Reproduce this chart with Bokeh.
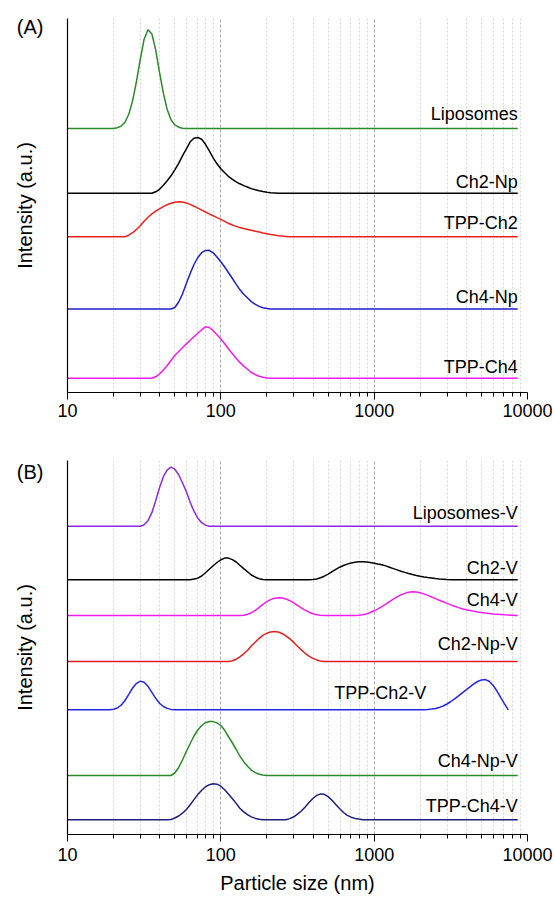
from bokeh.plotting import figure
from bokeh.models import Range1d, FixedTicker, Grid, NumeralTickFormatter
from bokeh.layouts import column
from bokeh.core.properties import value
from bokeh.embed import file_html
from bokeh.resources import INLINE

FONT = "Liberation Sans"

# particle size sampling grid (nm)
size_grid = [10.0, 10.6, 11.2, 11.9, 12.6, 13.3, 14.1, 15.0, 15.8, 16.8, 17.8, 18.8,
             20.0, 21.1, 22.4, 23.7, 25.1, 26.6, 28.2, 29.9, 31.6, 33.5, 35.5, 37.6,
             39.8, 42.2, 44.7, 47.3, 50.1, 53.1, 56.2, 59.6, 63.1, 66.8, 70.8, 75.0,
             79.4, 84.1, 89.1, 94.4, 100, 106, 112, 119, 126, 133, 141, 150, 158, 168,
             178, 188, 200, 211, 224, 237, 251, 266, 282, 299, 316, 335, 355, 376, 398,
             422, 447, 473, 501, 531, 562, 596, 631, 668, 708, 750, 794, 841, 891, 944,
             1000, 1059, 1122, 1189, 1259, 1334, 1413, 1496, 1585, 1679, 1778, 1884,
             1995, 2113, 2239, 2371, 2512, 2661, 2818, 2985, 3162, 3350, 3548, 3758,
             3981, 4217, 4467, 4732, 5012, 5309, 5623, 5957, 6310, 6683, 7079, 7499,
             7943, 8414, 8635]

major_ticks = [10, 100, 1000, 10000]
minor_ticks = [20, 30, 40, 50, 60, 70, 80, 90, 200, 300, 400, 500, 600, 700, 800, 900,
               2000, 3000, 4000, 5000, 6000, 7000, 8000, 9000]
major_grid = [100, 1000]

# ---------------- Panel A : intensity distributions (a.u.) ----------------
a_names = ["Liposomes", "Ch2-Np", "TPP-Ch2", "Ch4-Np", "TPP-Ch4"]
a_colors = ["#2a8a2a", "#000000", "#e8201c", "#1f1fc8", "#ee1cee"]
a_offsets = [264.0, 199.2, 155.8, 83.5, 14.2]
a_label_y = [278.7, 210.8, 169.2, 95.2, 25.2]
a_label_x = [8635, 8635, 8635, 8635, 8635]

liposomes_from = 20.0
liposomes = [0, 0.8, 2.4, 6.3, 14.3, 27.9, 47.5, 70, 89.3, 98.7, 94.6, 78.5, 56.4,
             35.1, 18.9, 8.8, 3.6, 1.3, 0.3, 0]
ch2_np_from = 35.5
ch2_np = [0, 1.5, 4, 8, 12.5, 17.5, 23.5, 30, 37.5, 44.5, 51.5, 55, 55.8, 54, 49,
          42.5, 35.5, 29.5, 24.5, 20.5, 17, 14, 11.5, 9.5, 7.7, 6.1, 4.7, 3.5, 2.5,
          1.7, 1.1, 0.6, 0.3, 0]
tpp_ch2_from = 23.7
tpp_ch2 = [0, 1.5, 4, 7.3, 11.3, 15.5, 19.5, 22.8, 25.5, 27.8, 30, 32, 33.5, 34.5, 35,
           34.8, 33.8, 32.3, 30.5, 28.6, 26.6, 24.7, 22.8, 21, 19.1, 17.3, 15.3, 13.4,
           11.7, 10.3, 9.1, 8.2, 7.3, 6.4, 5.4, 4.6, 3.8, 3, 2.3, 1.6, 1, 0.6, 0.3, 0]
ch4_np_from = 47.3
ch4_np = [0, 1.5, 7, 15, 25.5, 35.5, 44.5, 51.5, 56.3, 58.6, 58.7, 56.2, 52, 47.3, 42,
          36.5, 30.5, 24.7, 19.4, 14.8, 10.8, 7.4, 4.7, 2.6, 1.2, 0.4, 0]
tpp_ch4_from = 35.5
tpp_ch4 = [0, 1.5, 4.3, 8.2, 12.8, 17.8, 22.8, 26.8, 30.6, 34.4, 38, 41.6, 45, 48.6,
           51.5, 50.8, 47.6, 43.5, 39.3, 34.5, 29.5, 24.6, 20, 15.9, 12.2, 8.8, 5.8,
           3.6, 2, 1, 0.4, 0]

a_series = [[(liposomes_from, liposomes)], [(ch2_np_from, ch2_np)],
            [(tpp_ch2_from, tpp_ch2)], [(ch4_np_from, ch4_np)],
            [(tpp_ch4_from, tpp_ch4)]]
a_full = [True, True, True, True, True]

# ---------------- Panel B ----------------
b_names = ["Liposomes-V", "Ch2-V", "Ch4-V", "Ch2-Np-V", "TPP-Ch2-V", "Ch4-Np-V", "TPP-Ch4-V"]
b_colors = ["#8a2be2", "#000000", "#ee1cee", "#e02020", "#2525e0", "#2a8a2a", "#1e1e80"]
b_offsets = [308.3, 254.7, 219.0, 173.0, 124.7, 59.0, 14.7]
b_label_y = [321.3, 266.7, 234.7, 190.3, 141.5, 74.0, 29.0]
b_label_x = [8635, 8635, 8635, 8635, 2190, 8635, 8635]

liposomes_v_from = 29.9
liposomes_v = [0, 1.5, 5.5, 13.5, 25.5, 38.5, 49.5, 56.3, 59, 57, 51.5, 43.5, 34.5, 24,
               15, 8, 3.5, 1.1, 0]
ch2_v_p1_from = 63.1
ch2_v_p1 = [0, 0.7, 1.6, 3.8, 7, 10.5, 14, 17.3, 20, 21.7, 21.7, 20.2, 17.8, 14.6, 11.2,
            7.8, 4.8, 2.6, 1.1, 0.3, 0]
ch2_v_p2_from = 376
ch2_v_p2 = [0, 0.2, 0.8, 2, 3.6, 5.7, 8.1, 10.4, 12.6, 14.3, 15.7, 16.8, 17.6, 18, 18,
            17.7, 17.3, 16.6, 15.8, 15, 13.9, 12.6, 11.2, 9.9, 8.6, 7.4, 6.3, 5.3, 4.4,
            3.6, 2.9, 2.3, 1.8, 1.3, 0.9, 0.6, 0.3, 0.1, 0]
ch4_v_p1_from = 133
ch4_v_p1 = [0, 0.3, 1.2, 2.8, 5.2, 8.1, 11.1, 13.8, 15.9, 17.2, 17.8, 17.6, 16.6, 14.8,
            12.6, 10.1, 7.6, 5.3, 3.3, 1.8, 0.8, 0.3, 0]
ch4_v_p2_from = 750
ch4_v_p2 = [0, 0.2, 0.7, 1.6, 3, 4.7, 6.7, 8.9, 11.3, 13.8, 16.3, 18.6, 20.6, 22.1, 23.2,
            23.7, 23.5, 22.8, 21.6, 20.1, 18.5, 16.9, 15.3, 13.7, 12.1, 10.6, 9.2, 7.9,
            6.8, 5.8, 5, 4.2, 3.5, 2.9, 2.4, 2, 1.6, 1.3, 1, 0.7, 0.5, 0.3, 0.1]
ch2_np_v_from = 112
ch2_np_v = [0, 0.8, 2.3, 4.6, 7.7, 11.5, 15.5, 19.5, 23.2, 26.2, 28.3, 29.6, 30, 29.5,
            28, 25.6, 22.6, 19.1, 15.3, 11.6, 8.2, 5.3, 3.1, 1.6, 0.6, 0]
tpp_ch2_v_p1_from = 18.8
tpp_ch2_v_p1 = [0, 0.5, 1.8, 4.6, 9.3, 15.5, 21.8, 26.5, 28.7, 27.5, 23.5, 17.5, 11.5,
                6.6, 3.3, 1.4, 0.4, 0]
tpp_ch2_v_p2_from = 2113
tpp_ch2_v_p2 = [0, 0.2, 0.7, 1.4, 2.4, 3.8, 5.8, 8.3, 11, 14, 17, 20, 23, 26, 28.3, 29.9,
                30.2, 28.5, 24.5, 19, 12.5, 6, 0]
ch4_np_v_from = 47.3
ch4_np_v = [0, 2.5, 8, 15.5, 24, 32, 39.5, 45.5, 50, 52.8, 54, 53.9, 52.6, 50, 45.2, 39,
            32.5, 26, 19.5, 13.8, 9, 5.4, 2.9, 1.2, 0.4, 0]
tpp_ch4_v_p1_from = 44.7
tpp_ch4_v_p1 = [0, 0.3, 1.8, 3.8, 6.6, 10.3, 15, 20.2, 25.2, 29.6, 33, 35.1, 36, 35.6,
                33.6, 30.1, 25.8, 21.1, 16.4, 11.6, 7.9, 4.9, 2.9, 1.4, 0.5, 0]
tpp_ch4_v_p2_from = 266
tpp_ch4_v_p2 = [0, 1.2, 3.0, 5.7, 8.8, 12.8, 17.2, 21.3, 24.4, 25.9, 25.5, 23.2, 19.5,
                15.2, 11, 7.3, 4.5, 2.6, 1.4, 0.7, 0]

b_series = [[(liposomes_v_from, liposomes_v)],
            [(ch2_v_p1_from, ch2_v_p1), (ch2_v_p2_from, ch2_v_p2)],
            [(ch4_v_p1_from, ch4_v_p1), (ch4_v_p2_from, ch4_v_p2)],
            [(ch2_np_v_from, ch2_np_v)],
            [(tpp_ch2_v_p1_from, tpp_ch2_v_p1), (tpp_ch2_v_p2_from, tpp_ch2_v_p2)],
            [(ch4_np_v_from, ch4_np_v)],
            [(tpp_ch4_v_p1_from, tpp_ch4_v_p1), (tpp_ch4_v_p2_from, tpp_ch4_v_p2)]]
b_full = [True, True, True, True, False, True, True]


def build(segments, full, offset):
    xs = [size_grid[0]]
    ys = [0.0]
    for start, vals in segments:
        i = size_grid.index(start)
        xs += size_grid[i:i + len(vals)]
        ys += list(vals)
    if full and xs[-1] != size_grid[-1]:
        xs.append(size_grid[-1])
        ys.append(0.0)
    return xs, [offset + v for v in ys]


def make_panel(height, top, bottom, tick_standoff, names, colors, offsets, series,
               full, lx, ly, tag, tag_y, xlabel):
    p = figure(width=554, height=height, x_axis_type="log",
               x_range=Range1d(10, 10000), y_range=Range1d(0, 374),
               output_backend="svg", toolbar_location=None,
               min_border_left=67, min_border_right=27,
               min_border_top=top, min_border_bottom=bottom)
    p.outline_line_color = None
    p.xgrid.visible = False
    p.ygrid.visible = False
    p.background_fill_color = "white"

    p.add_layout(Grid(dimension=0, ticker=FixedTicker(ticks=minor_ticks),
                      grid_line_color="#d4d4d4", grid_line_dash="2 2",
                      grid_line_width=1))
    p.add_layout(Grid(dimension=0, ticker=FixedTicker(ticks=major_grid),
                      grid_line_color="#a8a8a8", grid_line_dash="3 2",
                      grid_line_width=1))

    ax = p.xaxis[0]
    ax.ticker = FixedTicker(ticks=major_ticks, minor_ticks=minor_ticks)
    ax.formatter = NumeralTickFormatter(format="0")
    ax.axis_line_color = "black"
    ax.axis_line_width = 1.2
    ax.major_tick_line_color = "black"
    ax.major_tick_out = 7
    ax.major_tick_in = 0
    ax.minor_tick_line_color = "black"
    ax.minor_tick_out = 4
    ax.minor_tick_in = 0
    ax.major_label_text_font = FONT
    ax.major_label_text_font_size = "18px"
    ax.major_label_text_color = "black"
    ax.major_label_standoff = tick_standoff
    if xlabel:
        ax.axis_label = xlabel
        ax.axis_label_text_font = FONT
        ax.axis_label_text_font_size = "20px"
        ax.axis_label_text_font_style = "normal"
        ax.axis_label_text_color = "black"
        ax.axis_label_standoff = 8

    # left axis: the panel tag "(A)"/"(B)" is shown as its only tick label
    ay = p.yaxis[0]
    ay.ticker = FixedTicker(ticks=[tag_y])
    ay.major_label_overrides = {tag_y: tag}
    ay.major_tick_line_color = None
    ay.major_tick_out = 0
    ay.major_tick_in = 0
    ay.minor_tick_line_color = None
    ay.minor_tick_out = 0
    ay.minor_tick_in = 0
    ay.major_label_standoff = 24
    ay.major_label_text_font = FONT
    ay.major_label_text_font_size = "20px"
    ay.major_label_text_color = "black"
    ay.axis_line_color = "black"
    ay.axis_line_width = 1.2
    ay.axis_label = "Intensity (a.u.)"
    ay.axis_label_text_font = FONT
    ay.axis_label_text_font_size = "20px"
    ay.axis_label_text_font_style = "normal"
    ay.axis_label_text_color = "black"
    ay.axis_label_standoff = -22

    for segs, fl, off, c in zip(series, full, offsets, colors):
        xs, ys = build(segs, fl, off)
        p.line(xs, ys, line_color=c, line_width=1.5)

    p.text(x=lx, y=ly, text=names, text_align="right", text_baseline="middle",
           text_font=value(FONT), text_font_size="18px", text_color="black")
    return p


pA = make_panel(440, 18, 48, 4, a_names, a_colors, a_offsets, a_series, a_full,
                a_label_x, a_label_y, "(A)", 366, None)
pB = make_panel(457, 20, 63, 6, b_names, b_colors, b_offsets, b_series, b_full,
                b_label_x, b_label_y, "(B)", 363, "Particle size (nm)")

layout = column(pA, pB, spacing=0)
open("out.html", "w").write(file_html(layout, INLINE))
